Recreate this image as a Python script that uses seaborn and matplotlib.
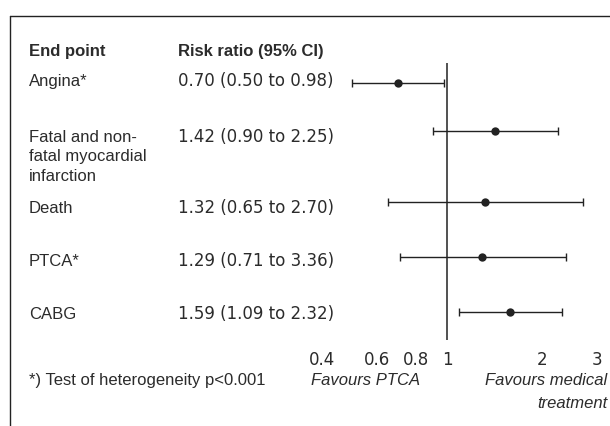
"""Forest plot: PTCA versus medical treatment, risk ratios with 95% CI."""

import matplotlib

matplotlib.use("Agg")
import matplotlib.pyplot as plt
import matplotlib.transforms as mtransforms
import pandas as pd
import seaborn as sns
from matplotlib.lines import Line2D
from matplotlib.ticker import NullLocator

endpoints = ["Angina*", "Fatal and non-\nfatal myocardial\ninfarction", "Death", "PTCA*", "CABG"]
ci_text = ["0.70 (0.50 to 0.98)", "1.42 (0.90 to 2.25)", "1.32 (0.65 to 2.70)",
           "1.29 (0.71 to 3.36)", "1.59 (1.09 to 2.32)"]
# values as drawn (the PTCA whisker ends near 2.4 in the picture)
rr = [0.70, 1.42, 1.32, 1.29, 1.59]
ci_low = [0.50, 0.90, 0.65, 0.71, 1.09]
ci_high = [0.98, 2.25, 2.70, 2.39, 2.32]
tick_values = [0.4, 0.6, 0.8, 1, 2, 3]
tick_labels = ["0.4", "0.6", "0.8", "1", "2", "3"]

# layout: y axis is in figure pixels (top = 63, bottom = 340)
ROW_POS = [83, 131, 202, 257, 312]
TEXT_BASE = [86, 142, 213, 266, 319]
LINE_PITCH = 19.5

INK = "#222222"
TXT = "#2b2b2b"
SANS = ["Liberation Sans", "DejaVu Sans"]
DIGITS = ["DejaVu Sans"]

df = pd.DataFrame({"endpoint": endpoints, "rr": rr, "lo": ci_low, "hi": ci_high,
                   "ci": ci_text, "y": ROW_POS, "ty": TEXT_BASE})

sns.set_theme(style="white")
plt.rcParams["font.family"] = SANS

W, H = 610, 426
fig = plt.figure(figsize=(W / 100, H / 100), dpi=100)
ax = fig.add_axes([300 / W, 1 - 340 / H, 310 / W, 277 / H])
ax.set_xscale("log")
ax.set_xlim(0.3415, 3.293)
ax.set_ylim(340, 63)

ax.axvline(1, color=INK, lw=1.1, zorder=1)
ax.errorbar(
    df["rr"], df["y"],
    xerr=[df["rr"] - df["lo"], df["hi"] - df["rr"]],
    fmt="none", ecolor=INK, elinewidth=1.0, capsize=3, capthick=1.0, zorder=2,
)
sns.scatterplot(data=df, x="rr", y="y", ax=ax, color=INK, s=36, edgecolor=INK,
                linewidth=0, zorder=3, legend=False)

ax.set_xticks(tick_values)
ax.set_xticklabels(tick_labels, fontsize=12, color=TXT, family=DIGITS)
ax.xaxis.set_minor_locator(NullLocator())
ax.tick_params(axis="x", length=0, pad=8)
ax.set_yticks([])
ax.set_xlabel("")
ax.set_ylabel("")
for s in ax.spines.values():
    s.set_visible(False)

# text columns: x in figure px, y in the same pixel rows as the marks
trans = mtransforms.blended_transform_factory(fig.transFigure, ax.transData)
col1, col2 = 29 / W, 178 / W
ax.text(col1, 56, "End point", transform=trans, fontsize=12, fontweight="bold",
        color=TXT, va="baseline", ha="left")
ax.text(col2, 56, "Risk ratio (95% CI)", transform=trans, fontsize=12, fontweight="bold",
        color=TXT, va="baseline", ha="left")
for _, row in df.iterrows():
    for i, line in enumerate(row["endpoint"].split("\n")):
        ax.text(col1, row["ty"] + i * LINE_PITCH, line, transform=trans, fontsize=12,
                color=TXT, va="baseline", ha="left")
    ax.text(col2, row["ty"], row["ci"], transform=trans, fontsize=12,
            color=TXT, va="baseline", ha="left", family=DIGITS)

# footer
fig.text(29 / W, 1 - 385 / H, "*) Test of heterogeneity p<0.001", fontsize=12,
         color=TXT, va="baseline", ha="left")
fig.text(366 / W, 1 - 385 / H, "Favours PTCA", fontsize=12, style="italic",
         color=TXT, va="baseline", ha="center")
fig.text(607 / W, 1 - 385 / H, "Favours medical", fontsize=12, style="italic",
         color=TXT, va="baseline", ha="right")
fig.text(607 / W, 1 - 408 / H, "treatment", fontsize=12, style="italic",
         color=TXT, va="baseline", ha="right")

# frame lines (top and left)
fig.add_artist(Line2D([10 / W, 1], [1 - 16 / H, 1 - 16 / H], color=INK, lw=1.0))
fig.add_artist(Line2D([10 / W, 10 / W], [1 - 16 / H, 0], color=INK, lw=1.0))

fig.savefig("out.png", dpi=100)
